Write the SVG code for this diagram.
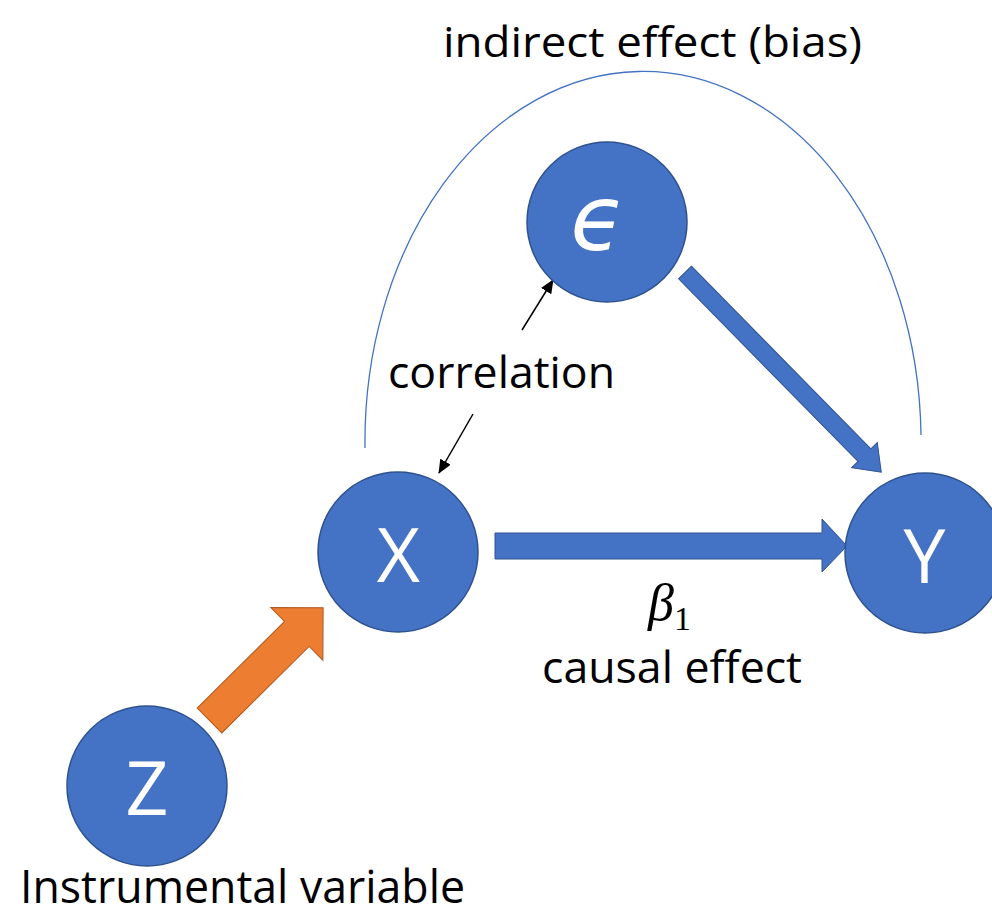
<svg xmlns="http://www.w3.org/2000/svg" width="992" height="916" viewBox="0 0 992 916">
<style>
.node{fill:#4472C4;stroke:#2F528F;stroke-width:1.5}
.nlab{fill:#FFFFFF;font-family:"Open Sans","Noto Sans",sans-serif;font-size:75px;text-anchor:middle}
.lab{fill:#000000;font-family:"Open Sans","Noto Sans",sans-serif;text-anchor:middle}
.barrow{fill:#4472C4;stroke:#2F528F;stroke-width:1}
.oarrow{fill:#ED7D31;stroke:#AE5A21;stroke-width:1}
.thin{stroke:#000000;stroke-width:1.5;fill:none}
</style>
<defs>
<marker id="ah" markerUnits="userSpaceOnUse" markerWidth="14" markerHeight="12" refX="13" refY="6" orient="auto">
<path d="M0,0 L14,6 L0,12 Z" fill="#000000"/>
</marker>
</defs>
<g id="connectors">
<path d="M365,448 A278,370 0 0 1 921,435" fill="none" stroke="#4472C4" stroke-width="1.3"/>
<polygon class="barrow" points="495,533 822,533 822,519 847,546 822,572 822,559 495,559"/>
<polygon class="barrow" transform="translate(685,272.5) rotate(45.5)" points="0,-9 256,-9 256,-18 280,0 256,18 256,9 0,9"/>
<polygon class="oarrow" transform="translate(209.5,720.5) rotate(-44.75)" points="0,-17.5 123,-17.5 123,-37 160,0 123,37 123,17.5 0,17.5"/>
<line class="thin" x1="522" y1="330" x2="553" y2="280" marker-end="url(#ah)"/>
<line class="thin" x1="473" y1="414" x2="439" y2="473" marker-end="url(#ah)"/>
</g>
<g id="node-eps">
<circle class="node" cx="607" cy="222" r="80"/>
<text x="598" y="250" fill="#FFFFFF" font-family="DejaVu Sans,sans-serif" font-style="italic" font-size="90" text-anchor="middle">ϵ</text>
</g>
<g id="node-X">
<circle class="node" cx="398" cy="552" r="80"/>
<text class="nlab" x="398.5" y="582">X</text>
</g>
<g id="node-Y">
<circle class="node" cx="925" cy="553" r="80"/>
<text class="nlab" x="924.5" y="583">Y</text>
</g>
<g id="node-Z">
<circle class="node" cx="147" cy="786" r="80"/>
<text class="nlab" x="147" y="815">Z</text>
</g>
<g id="labels">
<text class="lab" x="652.5" y="57" font-size="42" textLength="419" lengthAdjust="spacingAndGlyphs">indirect effect (bias)</text>
<text class="lab" x="501.5" y="388" font-size="43" textLength="227" lengthAdjust="spacingAndGlyphs">correlation</text>
<text x="648" y="620" font-family="Liberation Serif,DejaVu Serif,serif" fill="#000000"><tspan font-style="italic" font-size="52">β</tspan><tspan font-size="34" dy="10">1</tspan></text>
<text class="lab" x="672" y="683" font-size="44" textLength="260" lengthAdjust="spacingAndGlyphs">causal effect</text>
<text class="lab" x="242.5" y="903" font-size="45" textLength="445" lengthAdjust="spacingAndGlyphs">Instrumental variable</text>
</g>
</svg>
